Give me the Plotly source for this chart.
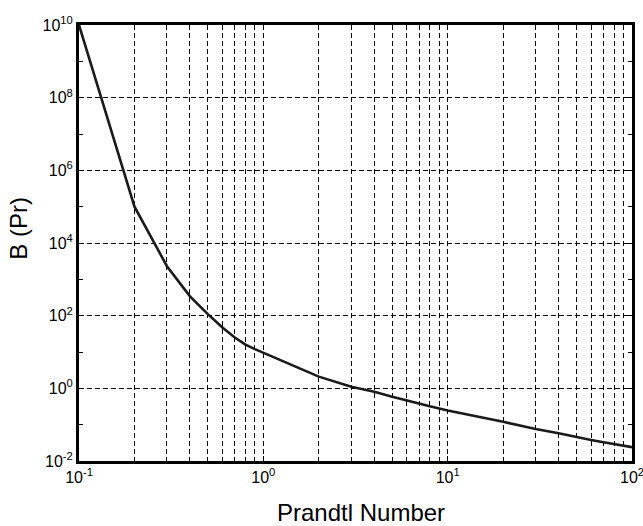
import plotly.graph_objects as go

prandtl = [0.1, 0.2, 0.3, 0.4, 0.5, 0.6, 0.7, 0.8, 0.9, 1,
           2, 3, 4, 5, 6, 7, 8, 9, 10,
           20, 30, 40, 50, 60, 70, 80, 90, 100]
b_pr = [1e10, 1e5, 2.3e3, 340, 110, 47, 25, 16, 12, 9.5,
        2.1, 1.1, 0.81, 0.59, 0.46, 0.39, 0.32, 0.28, 0.245,
        0.12, 0.076, 0.058, 0.045, 0.038, 0.033, 0.029, 0.027, 0.024]

x_major = [0.1, 1, 10, 100]
x_major_text = ["10<sup>-1</sup>", "10<sup>0</sup>", "10<sup>1</sup>", "10<sup>2</sup>"]
x_minor = [m * d for d in [0.1, 1, 10] for m in range(2, 10)]

y_major = [1e-2, 1e0, 1e2, 1e4, 1e6, 1e8, 1e10]
y_major_text = ["10<sup>-2</sup>", "10<sup>0</sup>", "10<sup>2</sup>", "10<sup>4</sup>",
                "10<sup>6</sup>", "10<sup>8</sup>", "10<sup>10</sup>"]
y_minor = [1e-1, 1e1, 1e3, 1e5, 1e7, 1e9]

fig = go.Figure()
fig.add_trace(go.Scatter(x=prandtl, y=b_pr, mode="lines",
                         line=dict(color="#1a1a1a", width=2.6), showlegend=False))

font = dict(family="Liberation Sans, Arial, Helvetica, sans-serif", color="black")
dash = "5px,3px"

fig.update_layout(
    template="none",
    width=643, height=526,
    margin=dict(l=79, r=11, t=25, b=65, autoexpand=False),
    paper_bgcolor="white", plot_bgcolor="white",
    font=font,
    xaxis=dict(type="log", range=[-1, 2], automargin=False,
               ticklabeloverflow="allow",
               tickmode="array", tickvals=x_major, ticktext=x_major_text,
               tickfont=dict(size=16, **font),
               showgrid=True, gridcolor="black", griddash=dash, gridwidth=1,
               ticks="inside", ticklen=5, tickcolor="black",
               minor=dict(tickvals=x_minor, showgrid=True, gridcolor="black",
                          griddash=dash, gridwidth=1, ticks="inside", ticklen=3,
                          tickcolor="black"),
               showline=True, linecolor="black", linewidth=3, mirror=True,
               zeroline=False),
    yaxis=dict(type="log", range=[-2, 10], automargin=False,
               ticklabeloverflow="allow",
               tickmode="array", tickvals=y_major, ticktext=y_major_text,
               tickfont=dict(size=16, **font),
               showgrid=True, gridcolor="black", griddash=dash, gridwidth=1,
               ticks="inside", ticklen=5, tickcolor="black",
               minor=dict(tickvals=y_minor, showgrid=False, ticks="inside",
                          ticklen=4, tickcolor="black"),
               showline=True, linecolor="black", linewidth=3, mirror="allticks",
               zeroline=False),
    annotations=[
        dict(text="Prandtl Number", xref="paper", yref="paper",
             x=0.51, y=-0.117, xanchor="center", yanchor="middle",
             showarrow=False, font=dict(size=24, **font)),
        dict(text="B (Pr)", xref="paper", yref="paper",
             x=-0.1094, y=0.534, xanchor="center", yanchor="middle",
             textangle=-90, showarrow=False, font=dict(size=24, **font)),
    ],
)

fig.write_html("out.html", config={"displayModeBar": False},
               post_script="document.body.style.margin='0';document.body.style.overflow='hidden';")
